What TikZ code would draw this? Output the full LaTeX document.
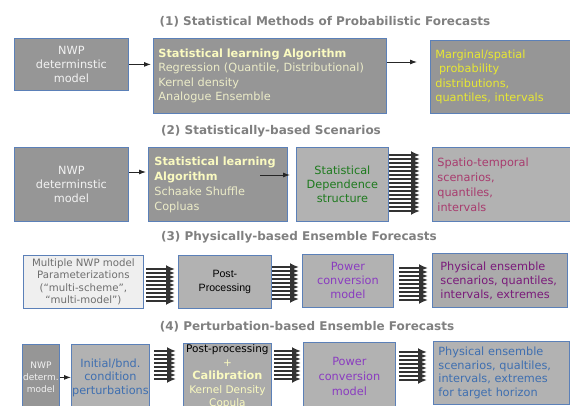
\documentclass[tikz,border=0pt]{standalone}
\usepackage{fontspec}
\setmainfont{DejaVu Sans}
\newfontfamily\arialfont{Liberation Sans}
\usetikzlibrary{arrows.meta,calc}
\definecolor{boxblue}{HTML}{5B80B8}
\definecolor{fdark}{HTML}{969696}
\definecolor{fmid}{HTML}{ABABAB}
\definecolor{flight}{HTML}{B2B2B2}
\definecolor{fpale}{HTML}{EFEFEF}
\definecolor{titlegray}{HTML}{808080}
\definecolor{nwpwhite}{HTML}{F2F2F2}
\definecolor{algyellow}{HTML}{FAFAC0}
\definecolor{algpale}{HTML}{ECECC8}
\definecolor{outyellow}{HTML}{E8E832}
\definecolor{depgreen}{HTML}{1E7A1E}
\definecolor{scenred}{HTML}{A83C6E}
\definecolor{multgray}{HTML}{6E6E6E}
\definecolor{powpurple}{HTML}{8A3CC0}
\definecolor{enspurple}{HTML}{7A1A7A}
\definecolor{pertblue}{HTML}{3F6FB0}

\begin{document}
\begin{tikzpicture}[x=1pt,y=-1pt,
    box/.style={draw=boxblue,line width=0.8pt,anchor=north west,inner sep=0pt,
      font=\fontsize{11.3}{14.3}\selectfont},
    lbox/.style={box,align=left,inner xsep=5pt},
    cbox/.style={box,align=center},
    title/.style={font=\fontsize{12}{14}\selectfont\bfseries,text=titlegray},
    arr/.style={-{Latex[length=7pt,width=5pt]},line width=0.9pt,draw=black!85},
    bundle/.style={-{Latex[length=9pt,width=8pt]},line width=1.8pt,draw=black!80}]
  \useasboundingbox (0,0) rectangle (570,406);
  \clip (0,0) rectangle (570,406);

  % (1) statistical methods
  \node[title] (t1) at (325,22) {(1) Statistical Methods of Probabilistic Forecasts};
  \node[cbox,fill=fdark,text=nwpwhite,minimum width=114pt,minimum height=52pt]
    (nwp1) at (14,38) {NWP\\determinstic\\model};
  \node[lbox,fill=fdark,text=algpale,text width=223pt,minimum width=233pt,minimum height=75pt]
    (alg1) at (153,38) {\textcolor{algyellow}{\textbf{Statistical learning Algorithm}}\\
      Regression (Quantile, Distributional)\\Kernel density\\Analogue Ensemble};
  \node[lbox,fill=fdark,text=outyellow,text width=135pt,minimum width=145pt,minimum height=73pt]
    (out1) at (430,40) {Marginal/spatial\\\hspace{3.6pt}probability\\distributions,\\quantiles, intervals};
  \draw[arr,shorten >=2pt] (nwp1.east) -- (nwp1.east -| alg1.west);
  \draw[arr,shorten >=13pt] ($(alg1.north east)+(0,24)$) -- ($(out1.west |- alg1.north east)+(0,24)$);

  % (2) statistically-based scenarios
  \node[title] (t2) at (271,131) {(2) Statistically-based Scenarios};
  \node[cbox,fill=fdark,text=nwpwhite,minimum width=114pt,minimum height=74pt]
    (nwp2) at (14,147) {NWP\\determinstic\\model};
  \node[lbox,inner xsep=6pt,fill=fdark,text=algpale,font=\fontsize{11.3}{15}\selectfont,
    text width=127pt,minimum width=139pt,minimum height=74pt]
    (alg2) at (148,147) {\textcolor{algyellow}{\textbf{Statistical learning}}\\
      \textcolor{algyellow}{\textbf{Algorithm}}\\Schaake Shuffle\\Copluas};
  \node[cbox,fill=flight,text=depgreen,minimum width=92pt,minimum height=74pt]
    (dep) at (296,147) {Statistical\\Dependence\\structure};
  \node[lbox,fill=flight,text=scenred,font=\fontsize{11.3}{15}\selectfont,
    text width=133pt,minimum width=143pt,minimum height=74pt]
    (out2) at (432,147) {Spatio-temporal\\scenarios,\\quantiles,\\intervals};
  \coordinate (ain) at (260,175);
  \draw[arr,shorten >=2pt] ($(nwp2.north east)+(0,25)$) -- ($(alg2.north west)+(0,25)$);
  \draw[arr,shorten >=6pt] (ain) -- (ain -| dep.west);
  \foreach \d in {8,12,...,64}
    \draw[bundle,shorten >=12pt] ($(dep.north east)+(0,\d)$) -- ($(out2.west |- dep.north east)+(0,\d)$);

  % (3) physically-based ensembles
  \node[title] (t3) at (299,237) {(3) Physically-based Ensemble Forecasts};
  \node[cbox,fill=fpale,text=multgray,font=\fontsize{10.2}{12.5}\selectfont,
    minimum width=120pt,minimum height=53pt]
    (mult) at (23,255) {Multiple NWP model\\Parameterizations\\(“multi-scheme”,\\“multi-model”)};
  \node[cbox,fill=flight,text=black,font=\arialfont\fontsize{10.6}{14}\selectfont,
    minimum width=93pt,minimum height=53pt]
    (post3) at (178,255) {Post-\\Processing};
  \node[cbox,fill=flight,text=powpurple,font=\fontsize{11.3}{14}\selectfont,
    minimum width=91pt,minimum height=53pt]
    (pow3) at (302,254) {Power\\conversion\\model};
  \node[lbox,inner xsep=8pt,fill=fmid,text=enspurple,font=\fontsize{11.3}{14}\selectfont,
    text width=119pt,minimum width=135pt,minimum height=54pt]
    (out3) at (432,253) {Physical ensemble\\scenarios, quantiles,\\intervals, extremes};
  \foreach \d in {14,18,...,46}
    \draw[bundle,shorten <=2pt,shorten >=3pt] ($(mult.north east)+(0,\d)$) -- ($(post3.west |- mult.north east)+(0,\d)$);
  \foreach \d in {12,16,...,44}
    \draw[bundle,shorten >=3pt] ($(post3.north east)+(0,\d)$) -- ($(pow3.west |- post3.north east)+(0,\d)$);
  \foreach \d in {14,18,...,46}
    \draw[bundle,shorten <=5pt,shorten >=4pt] ($(pow3.north east)+(0,\d)$) -- ($(out3.west |- pow3.north east)+(0,\d)$);

  % (4) perturbation-based ensembles
  \node[title] (t4) at (307,327) {(4) Perturbation-based Ensemble Forecasts};
  \node[cbox,fill=fdark,text=nwpwhite,font=\fontsize{9}{12}\selectfont,
    minimum width=37pt,minimum height=66pt]
    (nwp4) at (22,344) {NWP\\determ.\\model};
  \node[cbox,fill=flight,text=pertblue,font=\fontsize{11.3}{13.5}\selectfont,
    minimum width=78pt,minimum height=66pt]
    (init) at (71,344) {Initial/bnd.\\condition\\perturbations};
  \node[cbox,fill=fmid,text=algyellow,font=\fontsize{10.5}{13.5}\selectfont,
    minimum width=88pt,minimum height=67pt]
    (post4) at (183,343) {\textcolor{black}{Post-processing}\\+\\
      {\fontsize{11.3}{13.5}\selectfont\bfseries Calibration}\\Kernel Density\\Copula};
  \node[cbox,fill=flight,text=powpurple,font=\fontsize{11.3}{15}\selectfont,
    minimum width=92pt,minimum height=68pt]
    (pow4) at (303,342) {Power\\conversion\\model};
  \node[lbox,fill=flight,text=pertblue,font=\fontsize{11.3}{13.7}\selectfont,
    text width=126pt,minimum width=136pt,minimum height=63pt]
    (out4) at (433,341) {Physical ensemble\\scenarios, qualtiles,\\intervals, extremes\\for target horizon};
  \draw[arr] (nwp4.east) -- (init.west);
  \foreach \d in {7,11,...,35}
    \draw[bundle,shorten <=4pt,shorten >=7pt] ($(init.north east)+(0,\d)$) -- ($(post4.west |- init.north east)+(0,\d)$);
  \foreach \d in {8,12,...,36}
    \draw[bundle,shorten <=2pt,shorten >=2pt] ($(post4.north east)+(0,\d)$) -- ($(pow4.west |- post4.north east)+(0,\d)$);
  \foreach \d in {10,14,...,38}
    \draw[bundle,shorten <=3pt,shorten >=6pt] ($(pow4.north east)+(0,\d)$) -- ($(out4.west |- pow4.north east)+(0,\d)$);
\end{tikzpicture}
\end{document}
